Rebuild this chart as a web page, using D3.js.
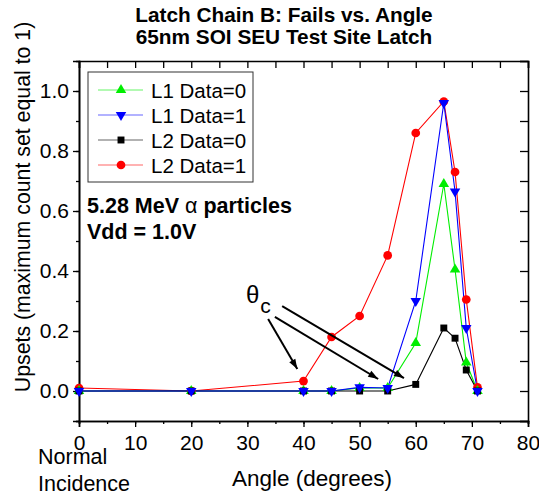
<!DOCTYPE html>
<html>
<head>
<meta charset="utf-8">
<script src="https://cdn.jsdelivr.net/npm/d3@7"></script>
<style>
  body { margin: 0; background: #fff; }
  svg { display: block; font-family: "Liberation Sans", Arial, sans-serif; }
</style>
</head>
<body>
<svg id="chart" width="539" height="498"></svg>
<script>
// data
const angles = [0, 20, 40, 45, 50, 55, 60, 65, 67, 69, 71]
const l1Data0 = [0, 0, 0, 0, 0.01, 0.01, 0.16, 0.69, 0.405, 0.095, 0]
const l1Data1 = [0, 0, 0, 0, 0.012, 0.01, 0.30, 0.96, 0.665, 0.21, 0]
const l2Data0 = [0, 0, 0, 0, 0, 0, 0.022, 0.21, 0.176, 0.07, 0]
const l2Data1 = [0.01, 0, 0.033, 0.18, 0.25, 0.452, 0.86, 0.965, 0.73, 0.305, 0.012]
const seriesNames = ["L1 Data=0", "L1 Data=1", "L2 Data=0", "L2 Data=1"]
const xTicks = [0, 10, 20, 30, 40, 50, 60, 70, 80]
const yTicks = [0, 0.2, 0.4, 0.6, 0.8, 1.0]

const svg = d3.select("#chart")
const plotLeft = 79, plotRight = 528, plotTop = 61, plotBottom = 421

const x = d3.scaleLinear().domain([0, 80]).range([plotLeft, plotRight])
const y = d3.scaleLinear().domain([-0.1, 1.1]).range([plotBottom, plotTop])

const series = [
  {name: seriesNames[0], values: l1Data0, colour: "#00ee00", symbol: "up"},
  {name: seriesNames[1], values: l1Data1, colour: "#0000ff", symbol: "down"},
  {name: seriesNames[2], values: l2Data0, colour: "#000000", symbol: "square"},
  {name: seriesNames[3], values: l2Data1, colour: "#ff0000", symbol: "circle"}
]

function symbolPath(kind){
  if(kind == "up" || kind == "down") return d3.symbol(d3.symbolTriangle, 48)()
  if(kind == "square") return d3.symbol(d3.symbolSquare, 48)()
  return d3.symbol(d3.symbolCircle, 60)()
}

// axes
const gx = svg.append("g").attr("transform", "translate(0," + plotBottom + ")")
gx.call(d3.axisBottom(x).tickValues(d3.range(0, 81, 5)).tickSize(3).tickFormat(""))
gx.append("g").call(d3.axisBottom(x).tickValues(xTicks).tickSize(6).tickFormat(d3.format("d")))
gx.selectAll("text").attr("font-size", 21).attr("fill", "#000").attr("y", 14).attr("font-family", "Liberation Sans, Arial")

const gy = svg.append("g").attr("transform", "translate(" + plotLeft + ",0)")
gy.call(d3.axisLeft(y).tickValues(d3.range(-1, 11).map(d => d / 10)).tickSize(3).tickFormat(""))
gy.append("g").call(d3.axisLeft(y).tickValues(yTicks).tickSize(6).tickFormat(d3.format(".1f")))
gy.selectAll("text").attr("font-size", 21).attr("fill", "#000").attr("x", -10).attr("font-family", "Liberation Sans, Arial")

const gTop = svg.append("g").attr("transform", "translate(0," + plotTop + ")")
gTop.call(d3.axisTop(x).tickValues(d3.range(0, 81, 5)).tickSize(-7).tickFormat(""))
const gRight = svg.append("g").attr("transform", "translate(" + plotRight + ",0)")
gRight.call(d3.axisRight(y).tickValues(d3.range(-1, 12).map(d => d / 10)).tickSize(-8).tickFormat(""))

svg.selectAll(".domain").attr("stroke", "#000").attr("stroke-width", 1.6)
svg.selectAll(".tick line").attr("stroke", "#000").attr("stroke-width", 1.3)

// lines and markers
const line = d3.line().x((d, i) => x(angles[i])).y(d => y(d))
const drawOrder = [3, 0, 2, 1]
drawOrder.forEach(k => {
  const s = series[k]
  svg.append("path")
    .attr("d", line(s.values))
    .attr("fill", "none")
    .attr("stroke", s.colour)
    .attr("stroke-width", 1.1)
})
drawOrder.forEach(k => {
  const s = series[k]
  svg.append("g").selectAll("path")
    .data(s.values)
    .join("path")
    .attr("d", symbolPath(s.symbol))
    .attr("transform", (d, i) => "translate(" + x(angles[i]) + "," + y(d) + ")" + (s.symbol == "down" ? " rotate(180)" : ""))
    .attr("fill", s.colour)
})

// legend
const legend = svg.append("g")
legend.append("rect")
  .attr("x", 88).attr("y", 72).attr("width", 165).attr("height", 110)
  .attr("fill", "#fff").attr("stroke", "#333").attr("stroke-width", 1)
series.forEach((s, i) => {
  const ly = 90 + i * 25
  legend.append("line")
    .attr("x1", 98).attr("x2", 143).attr("y1", ly).attr("y2", ly)
    .attr("stroke", s.colour).attr("stroke-width", 1).attr("opacity", 0.6)
  legend.append("path")
    .attr("d", symbolPath(s.symbol))
    .attr("transform", "translate(121," + ly + ")" + (s.symbol == "down" ? " rotate(180)" : ""))
    .attr("fill", s.colour)
  legend.append("text")
    .attr("x", 151).attr("y", ly + 7.5)
    .attr("font-size", 20.5)
    .text(s.name)
})

// titles
svg.append("text").attr("x", 284).attr("y", 22).attr("text-anchor", "middle")
  .attr("font-size", 20.8).attr("font-weight", "bold").text("Latch Chain B: Fails vs. Angle")
svg.append("text").attr("x", 284).attr("y", 44).attr("text-anchor", "middle")
  .attr("font-size", 20.8).attr("font-weight", "bold").text("65nm SOI SEU Test Site Latch")

svg.append("text").attr("x", 312).attr("y", 486).attr("text-anchor", "middle")
  .attr("font-size", 22.5).text("Angle (degrees)")
svg.append("text").attr("x", 38).attr("y", 464).attr("font-size", 21.5).text("Normal")
svg.append("text").attr("x", 38).attr("y", 491).attr("font-size", 21.5).text("Incidence")

svg.append("text")
  .attr("transform", "translate(30,207) rotate(-90)")
  .attr("text-anchor", "middle")
  .attr("font-size", 21.3)
  .text("Upsets (maximum count set equal to 1)")

// annotations
const note1 = svg.append("text").attr("x", 87).attr("y", 213).attr("font-size", 21.5).attr("font-weight", "bold")
note1.append("tspan").text("5.28 MeV ")
note1.append("tspan").attr("font-weight", "normal").text("α")
note1.append("tspan").text(" particles")
svg.append("text").attr("x", 87).attr("y", 239).attr("font-size", 21.5).attr("font-weight", "bold")
  .text("Vdd = 1.0V")

const theta = svg.append("text").attr("x", 246).attr("y", 303).attr("font-size", 24)
theta.append("tspan").text("θ")
theta.append("tspan").attr("font-size", 21).attr("dy", 10).attr("dx", 1).text("c")

svg.append("defs").append("marker")
  .attr("id", "head")
  .attr("viewBox", "0 0 10 10")
  .attr("refX", 10).attr("refY", 5)
  .attr("markerWidth", 5.5).attr("markerHeight", 5)
  .attr("markerUnits", "strokeWidth")
  .attr("orient", "auto")
  .append("path").attr("d", "M0,1.5 L10,5 L0,8.5 Z").attr("fill", "#000")

const arrowStarts = [[33.7, 0.24], [34.9, 0.247], [36.2, 0.283]]
const arrowEnds = [[38.9, 0.073], [53.3, 0.04], [57.9, 0.043]]
arrowStarts.forEach((a, i) => {
  const b = arrowEnds[i]
  svg.append("line")
    .attr("x1", x(a[0])).attr("y1", y(a[1]))
    .attr("x2", x(b[0])).attr("y2", y(b[1]))
    .attr("stroke", "#000").attr("stroke-width", 2)
    .attr("marker-end", "url(#head)")
})
</script>
</body>
</html>
